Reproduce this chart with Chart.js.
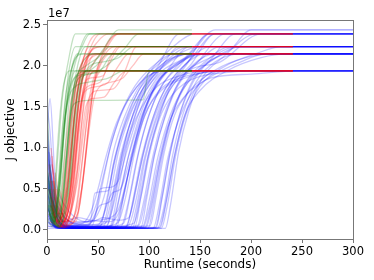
<!DOCTYPE html>
<html>
<head>
<meta charset="utf-8">
<script src="https://cdn.jsdelivr.net/npm/chart.js@4.4.0/dist/chart.umd.min.js"></script>
<style>
  html, body { margin: 0; padding: 0; background: #fff; }
  #chart { display: block; }
</style>
</head>
<body>
<canvas id="chart" width="374" height="280"></canvas>
<script>
// runtime (s) vs J objective (x 1e7)
const xTicks = [0, 50, 100, 150, 200, 250, 300];
const yTicks = [0, 0.5, 1, 1.5, 2, 2.5];

const greenRuns = [
  [[0,1.78],[3,0.6],[7,0.1],[12,0.4],[17,1.2],[22,1.7],[28,1.94],[142,1.94]],
  [[1,0.3],[6,0.05],[12,0.5],[17,1.3],[22,1.8],[28,2.1],[36,2.146],[142,2.146]],
  [[2,0.6],[8,0.1],[14,0.8],[19,1.5],[24,1.85],[32,2.2],[40,2.39],[142,2.39]],
  [[1,0.2],[12,0.04],[22,0.6],[27,1.4],[32,1.8],[40,1.94],[142,1.94]],
  [[3,0.8],[8,0.2],[13,0.7],[18,1.4],[23,1.75],[30,1.9],[40,1.95],[55,2.2],[70,2.44],[142,2.44]],
  [[0,0.4],[5,0.08],[11,0.5],[16,1.3],[21,1.9],[28,2.235],[142,2.235]],
  [[2,0.3],[10,0.06],[18,0.8],[23,1.4],[28,1.55],[40,1.58],[94,1.585],[100,1.94],[142,1.94]],
  [[1,0.5],[7,0.1],[13,0.6],[18,1.4],[23,1.9],[30,2.146],[142,2.146]],
  [[4,0.3],[11,0.05],[19,0.9],[24,1.6],[30,1.9],[38,2.0],[50,2.1],[62,2.235],[142,2.235]],
  [[0,0.9],[4,0.2],[9,0.3],[14,1.1],[19,1.7],[25,2.0],[33,2.2],[42,2.39],[142,2.39]],
  [[2,0.15],[12,0.03],[21,0.7],[26,1.5],[32,1.94],[142,1.94]],
  [[3,0.5],[9,0.07],[17,0.9],[22,1.6],[27,1.85],[36,1.9],[48,2.0],[60,2.146],[142,2.146]],
  [[1,0.25],[10,0.04],[20,0.9],[25,1.6],[30,2.0],[38,2.235],[142,2.235]],
  [[5,0.6],[12,0.1],[20,1.0],[25,1.6],[31,1.85],[42,1.9],[58,2.0],[75,2.2],[90,2.39],[142,2.39]],
  [[0,0.6],[4,0.1],[8,0.6],[12,1.3],[16,1.75],[22,1.94],[142,1.94]],
  [[3,0.2],[12,0.05],[22,0.6],[27,1.3],[32,1.75],[38,1.9],[50,1.92],[65,2.146],[142,2.146]],
  [[0,0.15],[5,0.04],[10,0.8],[15,1.6],[20,2.0],[28,2.39],[142,2.39]],
  [[4,0.4],[14,0.08],[24,0.7],[29,1.4],[34,1.8],[42,2.0],[55,2.05],[70,2.1],[85,2.235],[142,2.235]],
  [[2,0.35],[7,0.06],[11,0.5],[16,1.2],[21,1.6],[28,1.75],[40,1.8],[60,1.85],[75,1.94],[142,1.94]],
  [[1,0.7],[6,0.15],[16,0.4],[21,1.2],[26,1.7],[33,2.0],[45,2.146],[142,2.146]]
];

const redRuns = [
  [[3,0.4],[9,0.08],[15,0.2],[20,0.8],[25,1.5],[30,1.85],[36,2.1],[42,2.146],[241,2.146]],
  [[5,0.9],[11,0.12],[18,0.3],[24,1.0],[29,1.6],[34,1.9],[40,1.94],[241,1.94]],
  [[2,0.2],[10,0.05],[20,0.2],[26,0.9],[31,1.5],[36,1.9],[44,2.2],[52,2.235],[241,2.235]],
  [[6,0.5],[13,0.1],[22,0.4],[28,1.2],[33,1.75],[40,2.1],[50,2.3],[60,2.39],[241,2.39]],
  [[4,0.3],[12,0.04],[24,0.3],[30,1.0],[35,1.6],[40,1.85],[48,1.94],[241,1.94]],
  [[3,0.7],[8,0.15],[14,0.4],[19,1.1],[24,1.6],[30,1.9],[38,2.1],[48,2.146],[241,2.146]],
  [[5,0.35],[14,0.06],[25,0.5],[31,1.3],[36,1.75],[42,1.85],[55,1.88],[62,2.1],[70,2.235],[241,2.235]],
  [[4,1.0],[10,0.2],[17,0.2],[23,0.9],[28,1.6],[34,2.0],[42,2.3],[50,2.39],[241,2.39]],
  [[7,0.4],[15,0.08],[26,0.6],[32,1.4],[37,1.8],[45,1.94],[241,1.94]],
  [[3,0.25],[11,0.1],[21,0.6],[27,1.4],[33,1.9],[40,2.1],[47,2.146],[241,2.146]],
  [[6,0.6],[16,0.1],[27,0.8],[33,1.5],[38,1.7],[50,1.75],[60,1.8],[70,2.0],[80,2.146],[241,2.146]],
  [[2,0.5],[9,0.1],[19,0.5],[25,1.2],[30,1.7],[36,2.0],[45,2.2],[55,2.235],[241,2.235]],
  [[8,0.3],[18,0.05],[29,0.7],[35,1.4],[40,1.8],[48,1.94],[241,1.94]],
  [[4,0.15],[12,0.03],[23,0.5],[29,1.3],[34,1.85],[42,2.2],[52,2.39],[241,2.39]],
  [[5,0.8],[12,0.15],[20,0.3],[26,1.0],[31,1.6],[38,1.94],[241,1.94]],
  [[3,0.3],[13,0.05],[25,0.7],[31,1.5],[37,1.95],[46,2.12],[55,2.146],[241,2.146]],
  [[6,0.2],[17,0.03],[30,0.6],[36,1.2],[41,1.6],[50,1.7],[65,1.72],[75,1.9],[88,2.235],[241,2.235]],
  [[4,0.45],[10,0.08],[18,0.45],[24,1.3],[29,1.8],[35,1.94],[241,1.94]],
  [[7,0.6],[15,0.1],[24,0.4],[30,1.1],[36,1.7],[44,2.0],[56,2.2],[68,2.39],[241,2.39]],
  [[3,0.1],[14,0.04],[28,0.5],[34,1.3],[39,1.9],[48,2.146],[241,2.146]],
  [[5,0.3],[12,0.06],[22,0.7],[28,1.5],[34,2.0],[42,2.235],[241,2.235]],
  [[9,0.5],[19,0.1],[32,0.9],[38,1.5],[44,1.6],[56,1.62],[66,1.8],[78,1.94],[241,1.94]],
  [[8,0.7],[16,0.15],[28,0.1],[35,0.6],[40,1.2],[45,1.7],[52,2.0],[62,2.146],[241,2.146]],
  [[10,0.4],[20,0.06],[32,0.3],[38,0.9],[43,1.5],[48,1.85],[56,1.94],[241,1.94]],
  [[6,0.25],[15,0.03],[30,0.2],[37,0.8],[42,1.4],[48,1.9],[58,2.2],[70,2.39],[241,2.39]],
  [[4,0.6],[11,0.1],[26,0.15],[33,0.7],[39,1.3],[46,1.8],[55,2.1],[66,2.235],[241,2.235]],
  [[12,0.5],[22,0.1],[34,0.5],[40,1.1],[46,1.6],[52,1.75],[62,1.8],[74,1.85],[84,2.0],[95,2.146],[241,2.146]],
  [[2,0.8],[7,0.2],[13,0.1],[18,0.6],[23,1.3],[28,1.75],[35,1.9],[42,1.94],[241,1.94]],
  [[5,0.2],[13,0.04],[22,0.3],[28,1.0],[34,1.6],[40,1.75],[52,1.8],[60,2.0],[72,2.235],[241,2.235]],
  [[9,0.3],[18,0.05],[30,0.35],[36,1.0],[42,1.65],[50,2.0],[60,2.3],[72,2.39],[241,2.39]]
];

const blueRuns = [
  [[0,1.2],[3,1.6],[7,0.8],[11,0.1],[22,0.04],[40,0.06],[48,0.2],[55,0.6],[62,1.0],[72,1.4],[86,1.75],[104,2.0],[125,2.146],[300,2.146]],
  [[0,1.35],[4,0.7],[9,0.12],[20,0.05],[35,0.08],[44,0.25],[50,0.5],[58,0.9],[68,1.3],[80,1.6],[95,1.85],[112,2.05],[135,2.235],[300,2.235]],
  [[2,0.95],[10,0.5],[20,0.25],[32,0.12],[42,0.1],[50,0.2],[58,0.5],[65,0.95],[75,1.35],[88,1.7],[104,1.98],[125,2.25],[145,2.39],[300,2.39]],
  [[0,0.7],[8,0.35],[18,0.15],[30,0.06],[42,0.08],[47,0.45],[60,0.48],[65,0.8],[74,1.2],[86,1.6],[100,1.88],[120,1.94],[300,1.94]],
  [[0,0.6],[8,0.2],[18,0.05],[35,0.03],[50,0.06],[58,0.3],[65,0.75],[73,1.15],[84,1.5],[98,1.8],[116,2.05],[140,2.146],[300,2.146]],
  [[0,1.1],[5,0.6],[12,0.2],[25,0.05],[45,0.04],[56,0.1],[63,0.5],[70,0.95],[80,1.35],[93,1.7],[110,1.95],[130,2.15],[150,2.235],[300,2.235]],
  [[0,0.45],[10,0.12],[25,0.05],[40,0.05],[52,0.3],[62,0.35],[68,0.55],[75,0.95],[85,1.35],[97,1.7],[114,1.95],[135,2.1],[160,2.39],[300,2.39]],
  [[0,0.85],[7,0.3],[16,0.08],[32,0.04],[58,0.05],[66,0.35],[73,0.8],[82,1.2],[93,1.5],[108,1.75],[130,1.88],[160,1.94],[300,1.94]],
  [[0,0.25],[10,0.03],[40,0.02],[62,0.03],[68,0.25],[76,0.7],[85,1.15],[96,1.55],[110,1.85],[130,2.05],[155,2.146],[300,2.146]],
  [[0,0.5],[9,0.15],[22,0.04],[50,0.03],[64,0.06],[72,0.45],[80,0.9],[90,1.3],[102,1.65],[118,1.95],[140,2.235],[300,2.235]],
  [[0,0.3],[7,0.05],[30,0.02],[66,0.03],[73,0.3],[81,0.75],[90,1.2],[101,1.6],[116,1.9],[138,2.1],[165,2.44],[300,2.44]],
  [[0,0.65],[10,0.2],[22,0.08],[36,0.1],[50,0.12],[62,0.15],[70,0.25],[78,0.6],[86,1.0],[96,1.4],[110,1.7],[130,1.85],[155,1.92],[175,1.94],[300,1.94]],
  [[0,0.15],[12,0.03],[50,0.02],[72,0.03],[79,0.3],[87,0.8],[96,1.25],[108,1.65],[124,1.95],[145,2.146],[300,2.146]],
  [[0,0.4],[10,0.1],[24,0.04],[60,0.04],[75,0.08],[82,0.45],[90,0.95],[100,1.4],[112,1.75],[130,2.0],[150,2.235],[300,2.235]],
  [[0,0.2],[8,0.04],[35,0.02],[76,0.02],[84,0.3],[92,0.8],[101,1.25],[113,1.65],[130,1.95],[155,2.146],[300,2.146]],
  [[0,0.95],[8,0.45],[18,0.2],[32,0.1],[44,0.1],[55,0.15],[70,0.12],[80,0.15],[87,0.5],[95,0.95],[106,1.4],[120,1.75],[140,2.0],[165,2.39],[300,2.39]],
  [[0,0.05],[20,0.02],[60,0.02],[84,0.03],[90,0.35],[98,0.85],[108,1.3],[120,1.7],[138,1.95],[160,2.1],[185,2.235],[300,2.235]],
  [[0,0.55],[12,0.15],[26,0.05],[45,0.04],[70,0.05],[85,0.08],[92,0.4],[100,0.9],[110,1.35],[123,1.65],[145,1.85],[175,1.92],[200,1.94],[300,1.94]],
  [[0,0.12],[10,0.02],[55,0.02],[88,0.03],[94,0.3],[102,0.8],[112,1.3],[125,1.7],[142,2.0],[165,2.146],[300,2.146]],
  [[0,0.35],[9,0.06],[28,0.03],[70,0.04],[90,0.06],[97,0.4],[105,0.9],[115,1.35],[128,1.75],[148,2.05],[175,2.39],[300,2.39]],
  [[0,0.75],[6,0.25],[14,0.06],[24,0.03],[60,0.03],[94,0.05],[100,0.35],[108,0.85],[118,1.3],[130,1.65],[148,1.9],[172,1.94],[300,1.94]],
  [[0,0.28],[11,0.04],[40,0.03],[96,0.03],[102,0.3],[110,0.8],[120,1.3],[133,1.7],[152,2.0],[180,2.2],[200,2.44],[300,2.44]],
  [[0,0.08],[15,0.02],[70,0.02],[99,0.02],[105,0.35],[113,0.9],[123,1.4],[136,1.8],[155,2.05],[180,2.235],[300,2.235]],
  [[0,0.6],[8,0.2],[20,0.05],[36,0.03],[80,0.04],[101,0.05],[107,0.4],[115,0.95],[125,1.4],[140,1.7],[165,1.95],[195,2.1],[220,2.146],[300,2.146]],
  [[0,0.18],[10,0.03],[50,0.02],[104,0.02],[110,0.3],[118,0.85],[128,1.3],[141,1.65],[160,1.85],[200,1.9],[245,1.94],[300,1.94]],
  [[0,1.5],[3,1.2],[8,0.3],[14,0.05],[30,0.03],[106,0.03],[112,0.35],[120,0.9],[130,1.4],[143,1.8],[162,2.1],[185,2.39],[300,2.39]],
  [[0,0.1],[12,0.02],[108,0.02],[115,0.3],[123,0.9],[133,1.4],[146,1.8],[165,2.05],[190,2.146],[300,2.146]],
  [[0,0.45],[10,0.1],[22,0.04],[65,0.03],[112,0.02],[118,0.3],[126,0.9],[136,1.4],[150,1.75],[175,2.0],[205,2.15],[230,2.235],[300,2.235]],
  [[0,0.05],[15,0.02],[80,0.02],[116,0.02],[121,0.3],[129,0.95],[139,1.45],[152,1.85],[172,2.1],[205,2.39],[300,2.39]],
  [[0,0.7],[8,0.25],[18,0.1],[30,0.15],[42,0.12],[60,0.1],[70,0.2],[77,0.55],[85,1.0],[95,1.45],[108,1.8],[126,2.0],[150,2.146],[300,2.146]],
  [[0,0.3],[8,0.05],[38,0.03],[82,0.04],[88,0.3],[96,0.85],[106,1.3],[120,1.7],[140,1.95],[170,2.05],[210,2.39],[300,2.39]],
  [[0,0.9],[6,0.4],[14,0.15],[26,0.06],[44,0.05],[50,0.35],[52,0.5],[62,0.52],[70,0.6],[78,0.95],[88,1.35],[100,1.7],[118,1.94],[300,1.94]],
  [[0,0.2],[9,0.03],[45,0.02],[92,0.03],[98,0.4],[106,0.95],[116,1.4],[129,1.8],[148,2.05],[170,2.235],[300,2.235]],
  [[0,1.0],[6,0.5],[15,0.2],[28,0.08],[50,0.06],[60,0.12],[66,0.5],[74,0.95],[84,1.4],[97,1.75],[115,2.0],[138,2.146],[300,2.146]],
  [[0,0.4],[6,0.1],[15,0.02],[60,0.02],[97,0.03],[103,0.3],[111,0.85],[121,1.35],[134,1.75],[154,2.0],[178,2.146],[300,2.146]],
  [[0,0.8],[5,0.3],[12,0.05],[30,0.02],[52,0.04],[59,0.4],[67,0.9],[77,1.35],[90,1.7],[108,1.98],[130,2.39],[300,2.39]],
  [[0,1.3],[4,0.5],[10,0.08],[25,0.03],[55,0.04],[62,0.3],[70,0.8],[80,1.25],[92,1.6],[108,1.9],[130,2.235],[300,2.235]],
  [[0,0.5],[8,0.1],[30,0.03],[68,0.03],[75,0.4],[83,0.9],[93,1.35],[106,1.75],[124,2.0],[148,2.146],[300,2.146]],
  [[0,0.22],[10,0.03],[70,0.02],[86,0.03],[92,0.4],[100,0.95],[110,1.4],[123,1.8],[142,2.1],[165,2.39],[300,2.39]],
  [[0,0.9],[7,0.4],[17,0.15],[30,0.08],[40,0.1],[48,0.3],[56,0.7],[64,1.1],[76,1.5],[92,1.8],[112,1.94],[300,1.94]],
  [[0,0.1],[15,0.02],[90,0.02],[107,0.03],[113,0.4],[121,0.95],[131,1.45],[144,1.85],[165,2.1],[190,2.235],[300,2.235]],
  [[0,0.6],[10,0.15],[22,0.05],[60,0.05],[70,0.1],[78,0.45],[86,0.95],[96,1.4],[112,1.7],[135,1.85],[165,1.94],[300,1.94]],
  [[0,0.35],[8,0.05],[40,0.03],[78,0.04],[84,0.35],[92,0.85],[102,1.3],[115,1.7],[134,2.0],[160,2.235],[300,2.235]],
  [[0,0.7],[6,0.2],[14,0.04],[30,0.02],[90,0.02],[110,0.03],[116,0.3],[124,0.85],[134,1.35],[147,1.75],[168,1.94],[300,1.94]],
  [[0,0.15],[10,0.02],[50,0.02],[62,0.05],[70,0.5],[78,1.0],[88,1.45],[100,1.8],[118,2.05],[140,2.146],[300,2.146]],
  [[0,1.15],[5,0.45],[12,0.1],[25,0.04],[70,0.04],[80,0.06],[87,0.35],[95,0.85],[105,1.3],[118,1.7],[136,2.0],[158,2.39],[300,2.39]],
  [[0,0.45],[9,0.08],[26,0.03],[94,0.03],[100,0.25],[108,0.75],[118,1.25],[133,1.6],[158,1.85],[190,2.05],[215,2.146],[300,2.146]],
  [[0,0.3],[8,0.04],[35,0.02],[58,0.03],[66,0.4],[74,0.95],[84,1.4],[97,1.8],[116,2.05],[140,2.235],[300,2.235]],
  [[0,0.55],[10,0.2],[24,0.08],[40,0.06],[52,0.08],[60,0.35],[64,0.45],[72,0.5],[80,0.8],[90,1.25],[102,1.65],[120,1.94],[300,1.94]],
  [[0,0.02],[30,0.02],[100,0.02],[111,0.03],[117,0.35],[125,0.9],[135,1.4],[150,1.7],[178,1.95],[210,2.1],[235,2.146],[300,2.146]]
];

const FONT = 'DejaVu Sans';
const AXIS = '#777';

function makeSets(runs, color) {
  return runs.map(run => ({
    data: run,
    borderColor: color,
    borderWidth: 1.3,
    pointRadius: 0,
    fill: false,
    cubicInterpolationMode: 'monotone'
  }));
}

// dataset 0 is painted last, so green sits on top, blue at the bottom
const datasets = [].concat(
  makeSets(greenRuns, 'rgba(0,128,0,0.24)'),
  makeSets(redRuns, 'rgba(255,0,0,0.24)'),
  makeSets(blueRuns, 'rgba(0,0,255,0.22)')
);

const frame = {
  id: 'frame',
  afterDatasetsDraw(chart) {
    const { ctx, chartArea: a } = chart;
    ctx.save();
    ctx.strokeStyle = AXIS;
    ctx.lineWidth = 1;
    ctx.strokeRect(a.left + 0.5, a.top + 0.5, a.right - a.left, a.bottom - a.top);
    ctx.fillStyle = '#000';
    ctx.font = '11.5px "' + FONT + '"';
    ctx.textBaseline = 'alphabetic';
    ctx.fillText('1e7', a.left + 1, a.top - 3);
    ctx.restore();
  }
};

new Chart(document.getElementById('chart'), {
  type: 'line',
  data: { datasets },
  plugins: [frame],
  options: {
    responsive: false,
    animation: false,
    devicePixelRatio: 1,
    layout: { padding: { top: 20, right: 21, left: 0, bottom: 0 } },
    plugins: { legend: { display: false }, tooltip: { enabled: false } },
    scales: {
      x: {
        type: 'linear',
        min: 0,
        max: 300,
        afterBuildTicks: s => { s.ticks = xTicks.map(v => ({ value: v })); },
        afterFit: s => { s.height = 41; },
        grid: { drawOnChartArea: false, drawTicks: true, tickLength: 4, color: AXIS },
        border: { display: false },
        ticks: { color: '#000', padding: 2, maxRotation: 0, font: { family: FONT, size: 11.5 } },
        title: { display: true, text: 'Runtime (seconds)', color: '#000', padding: { top: 0, bottom: 8 }, font: { family: FONT, size: 12 } }
      },
      y: {
        type: 'linear',
        min: -0.11,
        max: 2.56,
        afterBuildTicks: s => { s.ticks = yTicks.map(v => ({ value: v })); },
        afterFit: s => { s.width = 47; },
        grid: { drawOnChartArea: false, drawTicks: true, tickLength: 4, color: AXIS },
        border: { display: false },
        ticks: { color: '#000', padding: 2, callback: v => v.toFixed(1), font: { family: FONT, size: 11.5 } },
        title: { display: true, text: 'J objective', color: '#000', padding: { top: 4, bottom: 0 }, font: { family: FONT, size: 12 } }
      }
    }
  }
});
</script>
</body>
</html>
